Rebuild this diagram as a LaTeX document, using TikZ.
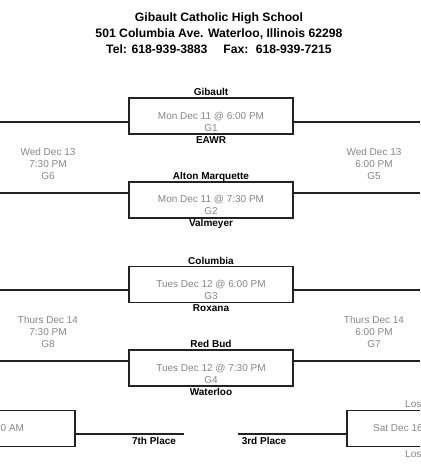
\documentclass[tikz,border=0pt]{standalone}
\usepackage{fontspec}
\setmainfont{Liberation Sans}
\usepackage{tikz}
\usetikzlibrary{positioning}
\definecolor{tarihGri}{HTML}{858585}
\definecolor{kutuSiyah}{HTML}{222222}
\tikzset{
  gamebox/.style={draw=kutuSiyah,line width=1.3pt,minimum width=164pt,minimum height=36pt,inner sep=0pt},
  team/.style={font=\bfseries\fontsize{10}{12}\selectfont,inner sep=0pt,text height=7.2pt,text depth=0pt},
  info/.style={text=tarihGri,font=\fontsize{10}{12}\selectfont,align=center,inner sep=0pt},
  bracket/.style={draw=kutuSiyah,line width=1.1pt},
  placeline/.style={draw=kutuSiyah,line width=2.4pt}
}

\begin{document}
\begin{tikzpicture}[x=1pt,y=-1pt]
\useasboundingbox (0,0) rectangle (420,470);
\clip (0,0) rectangle (420,470);
\node[font=\bfseries\fontsize{12.2}{16}\selectfont,align=center] (head) at (219,33)
  {Gibault Catholic High School\\501 Columbia Ave. Waterloo, Illinois 62298\\Tel: 618-939-3883\hspace{1.3em}Fax:\hspace{0.6em}618-939-7215};

\node[gamebox] (g1) at (211,116) {};
\node[gamebox] (g2) at (211,200) {};
\node[gamebox] (g3) at (211,284.5) {};
\node[gamebox] (g4) at (211,368) {};
\node[gamebox] (sev) at (-7,428.5) {};
\node[gamebox] (thd) at (429,428.5) {};

\node[info] (g1t) at (211,122) {Mon Dec 11 @ 6:00 PM\\G1};
\node[info] (g2t) at (211,205) {Mon Dec 11 @ 7:30 PM\\G2};
\node[info] (g3t) at (211,290) {Tues Dec 12 @ 6:00 PM\\G3};
\node[info] (g4t) at (211,374) {Tues Dec 12 @ 7:30 PM\\G4};

\node[team] (t1) at (211,92) {Gibault};
\node[team] (t2) at (211,140) {EAWR};
\node[team] (t3) at (211,176) {Alton Marquette};
\node[team] (t4) at (211,223) {Valmeyer};
\node[team] (t5) at (211,261) {Columbia};
\node[team] (t6) at (211,308) {Roxana};
\node[team] (t7) at (211,344) {Red Bud};
\node[team] (t8) at (211,392) {Waterloo};

\node[info] (g6) at (48,164) {Wed Dec 13\\7:30 PM\\G6};
\node[info] (g5) at (374,164) {Wed Dec 13\\6:00 PM\\G5};
\node[info] (g8) at (48,332) {Thurs Dec 14\\7:30 PM\\G8};
\node[info] (g7) at (374,332) {Thurs Dec 14\\6:00 PM\\G7};

\coordinate (l1) at (0,122);   \coordinate (r1) at (420,122);
\coordinate (l2) at (0,193);   \coordinate (r2) at (420,193);
\coordinate (l3) at (0,290);   \coordinate (r3) at (420,290);
\coordinate (l4) at (0,361);   \coordinate (r4) at (420,361);
\draw[bracket] (l1) -- (l1 -| g1.west);  \draw[bracket] (g1.east |- r1) -- (r1);
\draw[bracket] (l2) -- (l2 -| g2.west);  \draw[bracket] (g2.east |- r2) -- (r2);
\draw[bracket] (l3) -- (l3 -| g3.west);  \draw[bracket] (g3.east |- r3) -- (r3);
\draw[bracket] (l4) -- (l4 -| g4.west);  \draw[bracket] (g4.east |- r4) -- (r4);

\coordinate (sevEnd) at (184,434);
\coordinate (thdEnd) at (238,434);
\draw[placeline] (sev.east |- sevEnd) -- (sevEnd);
\draw[placeline] (thdEnd) -- (thdEnd -| thd.west);
\node[team] (p7) at (154,441) {7th Place};
\node[team] (p3) at (264,441) {3rd Place};

\node[info,text height=7.2pt,text depth=0pt,anchor=west] (sevt) at (0.5,428) {0 AM};
\node[info,text height=7.2pt,text depth=0pt,anchor=west] (thdt) at (373,428) {Sat Dec 16};
\node[info,text height=7.2pt,text depth=0pt,anchor=west] (los1) at (405,404) {Los};
\node[info,text height=7.2pt,text depth=0pt,anchor=west] (los2) at (405,454) {Los};
\end{tikzpicture}
\end{document}
